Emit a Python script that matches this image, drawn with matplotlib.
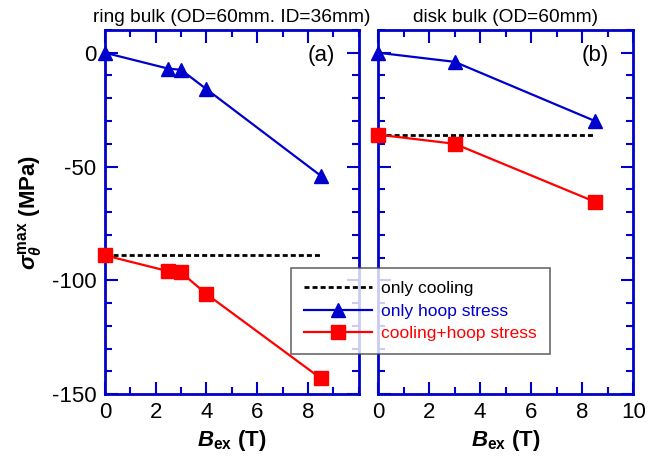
import matplotlib
matplotlib.use("Agg")
import matplotlib.pyplot as plt
from matplotlib.ticker import MultipleLocator
from matplotlib.lines import Line2D

plt.rcParams['font.family'] = ['Liberation Sans', 'DejaVu Sans']
plt.rcParams['axes.unicode_minus'] = False
plt.rcParams['mathtext.fontset'] = 'custom'
plt.rcParams['mathtext.it'] = 'Liberation Sans:italic:bold'
plt.rcParams['mathtext.rm'] = 'Liberation Sans:bold'
plt.rcParams['mathtext.bf'] = 'Liberation Sans:bold'

# (a) ring bulk
ring_hoop_B = [0, 2.5, 3, 4, 8.5]
ring_hoop_S = [0, -7, -7.5, -16, -54]
ring_comb_B = [0, 2.5, 3, 4, 8.5]
ring_comb_S = [-89, -96, -96.5, -106, -143]
ring_cool_B = [0, 8.5]
ring_cool_S = [-89, -89]

# (b) disk bulk
disk_hoop_B = [0, 3, 8.5]
disk_hoop_S = [0, -4, -30]
disk_comb_B = [0, 3, 8.5]
disk_comb_S = [-36, -40, -65.5]
disk_cool_B = [0, 8.5]
disk_cool_S = [-36, -36]

BLUE = '#0000CC'
RED = '#FF0000'
DASH = (0, (1.8, 1.1))

fig = plt.figure(figsize=(6.68, 4.61), dpi=100)
axL = fig.add_axes([0.157, 0.145, 0.380, 0.790])
axR = fig.add_axes([0.566, 0.145, 0.382, 0.790])

def style(ax, show_y):
    ax.set_xlim(0, 10)
    ax.set_ylim(-150, 10)
    ax.xaxis.set_major_locator(MultipleLocator(2))
    ax.xaxis.set_minor_locator(MultipleLocator(1))
    ax.yaxis.set_major_locator(MultipleLocator(50))
    ax.yaxis.set_minor_locator(MultipleLocator(10))
    for s in ax.spines.values():
        s.set_color(BLUE)
        s.set_linewidth(2)
    ax.tick_params(which='both', direction='in', top=True, right=True,
                   color=BLUE, width=1.5, labelsize=16, pad=6)
    ax.tick_params(which='major', length=9)
    ax.tick_params(which='minor', length=5)
    if not show_y:
        ax.tick_params(labelleft=False)
    ax.set_xlabel(r'$B_{\mathrm{ex}}$ (T)', fontsize=16, fontweight='bold', labelpad=3)

def draw(ax, cb, cs, hb, hs, mb, ms):
    ax.plot(cb, cs, ls=DASH, color='black', lw=2, zorder=2)
    ax.plot(hb, hs, color=BLUE, lw=1.6, marker='^', ms=10.5, zorder=3, clip_on=False)
    ax.plot(mb, ms, color=RED, lw=1.6, marker='s', ms=10.5, zorder=3, clip_on=False)

style(axL, True)
style(axR, False)
axL.set_xticks([0, 2, 4, 6, 8])
draw(axL, ring_cool_B, ring_cool_S, ring_hoop_B, ring_hoop_S, ring_comb_B, ring_comb_S)
draw(axR, disk_cool_B, disk_cool_S, disk_hoop_B, disk_hoop_S, disk_comb_B, disk_comb_S)

axL.set_title('ring bulk (OD=60mm. ID=36mm)', fontsize=13.8, pad=6)
axR.set_title('disk bulk (OD=60mm)', fontsize=13.8, pad=6)
axL.text(0.905, 0.93, '(a)', transform=axL.transAxes, ha='right', va='center', fontsize=16)
axR.text(0.905, 0.93, '(b)', transform=axR.transAxes, ha='right', va='center', fontsize=16)

axL.set_ylabel(r'$\sigma_{\theta}^{\mathrm{max}}$ (MPa)', fontsize=16, fontweight='bold', labelpad=6)

handles = [
    Line2D([], [], ls=DASH, color='black', lw=2),
    Line2D([], [], color=BLUE, lw=1.6, marker='^', ms=10.5),
    Line2D([], [], color=RED, lw=1.6, marker='s', ms=10.5),
]
labels = ['only cooling', 'only hoop stress', 'cooling+hoop stress']
leg = fig.legend(handles, labels, loc='upper left', bbox_to_anchor=(291/668, 1 - 268/461),
                 fontsize=12.5, frameon=True, fancybox=False, edgecolor='#444444',
                 handlelength=3.9, borderpad=0.75, labelspacing=0.42, handletextpad=0.55,
                 borderaxespad=0)
leg.get_frame().set_linewidth(1.2)
for t, c in zip(leg.get_texts(), ['black', BLUE, RED]):
    t.set_color(c)

fig.savefig('out.png', dpi=100)
